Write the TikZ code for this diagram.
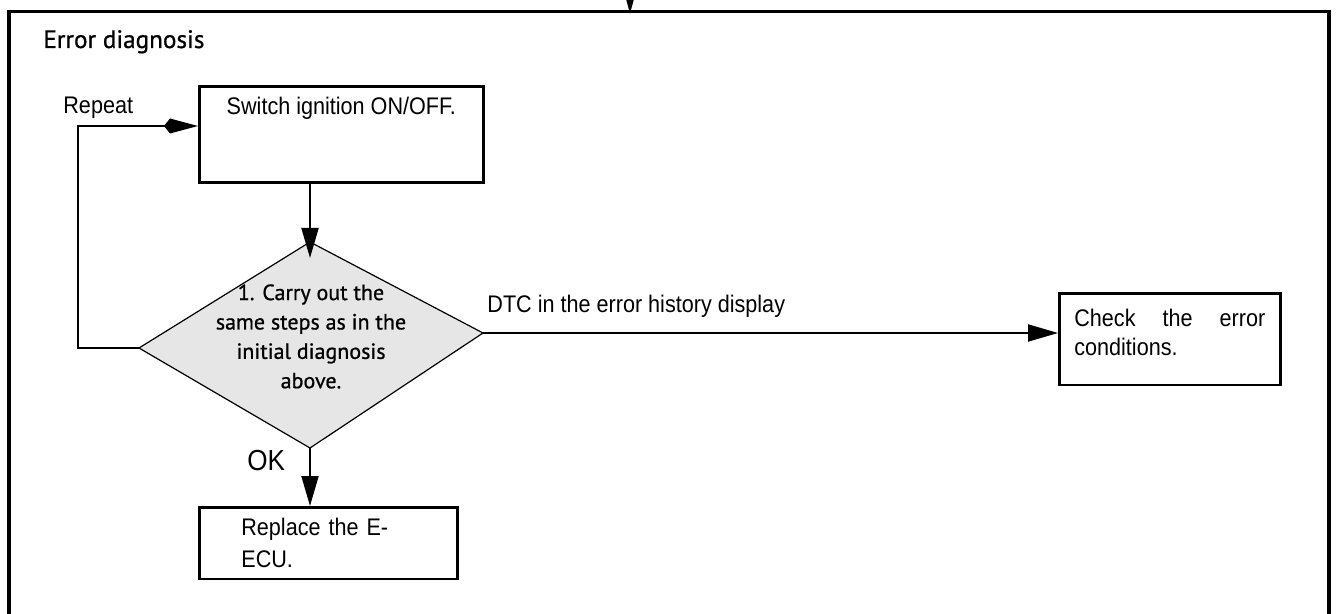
\documentclass[tikz,border=0pt]{standalone}
\usepackage{fontspec}
\setmainfont[FakeStretch=0.9]{Liberation Sans}
\newfontfamily\headfont[FakeBold=0.8]{PT Sans}
\usepackage{xcolor}
\usepackage{tikz}
\usetikzlibrary{positioning}
\usetikzlibrary{arrows.meta}

\definecolor{diamondgray}{HTML}{E6E6E6}

\begin{document}
\begin{tikzpicture}[x=0.5pt,y=-0.5pt,
   >={Triangle[length=15pt,width=8.5pt]},
   stepbox/.style={draw,line width=1.35pt,inner xsep=0pt,inner ysep=5.5pt,
                   font=\fontsize{12}{14.5}\selectfont},
   lbl/.style={inner sep=0pt,font=\fontsize{12}{14.5}\selectfont},
   headtext/.style={inner sep=0pt,font=\headfont\fontsize{12.6}{14}\selectfont},
   dtext/.style={inner sep=0pt,align=center,font=\headfont\fontsize{11}{14.7}\selectfont}]
\useasboundingbox (0,0) rectangle (1338,614);
\clip (0,0) rectangle (1338,614);

% frame of the whole block
\draw[line width=1.6pt] (9,11.5) rectangle (1329,680);
\coordinate (from) at (630,-30);
\coordinate (into) at (630,14);
\draw[line width=1pt,-{Triangle[length=10pt,width=5pt]}] (from) -- (into);

\node[headtext, anchor=base west] (title) at (43,48) {Error diagnosis};

\begin{scope}[every node/.style={stepbox, anchor=north west}]
   \node[minimum width=142pt, text depth=28.3pt] (switch) at (198,85) {Switch ignition ON/OFF.};
   \node[text width=87pt, inner xsep=21pt, align=left,
         font=\fontsize{12}{16}\selectfont] (replace) at (198,506) {Replace the E-\\ECU.};
   \node[text width=95.5pt, inner xsep=7.5pt, inner ysep=8pt, align=left]
         (errcond) at (1058,292) {Check\hfill the\hfill error\\conditions.\rule[-6.7pt]{0pt}{0pt}};
\end{scope}

% decision
\coordinate (dtop) at (310,242);
\coordinate (dright) at (483,333);
\coordinate (dbottom) at (310,448);
\coordinate (dleft) at (139,348);
\filldraw[fill=diamondgray, line width=0.6pt] (dtop) -- (dright) -- (dbottom) -- (dleft) -- cycle;
\node[dtext, anchor=north] (steps) at (311,284) {1. Carry out the\\same steps as in the\\initial diagnosis\\above.};

\node[lbl, anchor=base west] (repeat) at (63,114) {Repeat};
\node[lbl, anchor=base west, font=\fontsize{14.5}{16}\selectfont] (ok) at (247,470) {OK};
\node[lbl, anchor=base west] (dtc) at (487,313) {DTC in the error history display};

\begin{scope}[every edge/.style={draw,line width=1pt}]
   \path [->] (switch.south -| dtop) edge ([yshift=-8pt]dtop);
   \path [->] (dright) edge (dright -| errcond.west);
   \path [->] (dbottom) edge (dbottom |- replace.north);
\end{scope}

\coordinate (loop) at (78,126);
\draw[line width=1pt,-{Kite[length=17pt,width=7.5pt,inset=3pt]}] (dleft) -| (loop) -- (loop -| switch.west);
\end{tikzpicture}
\end{document}
